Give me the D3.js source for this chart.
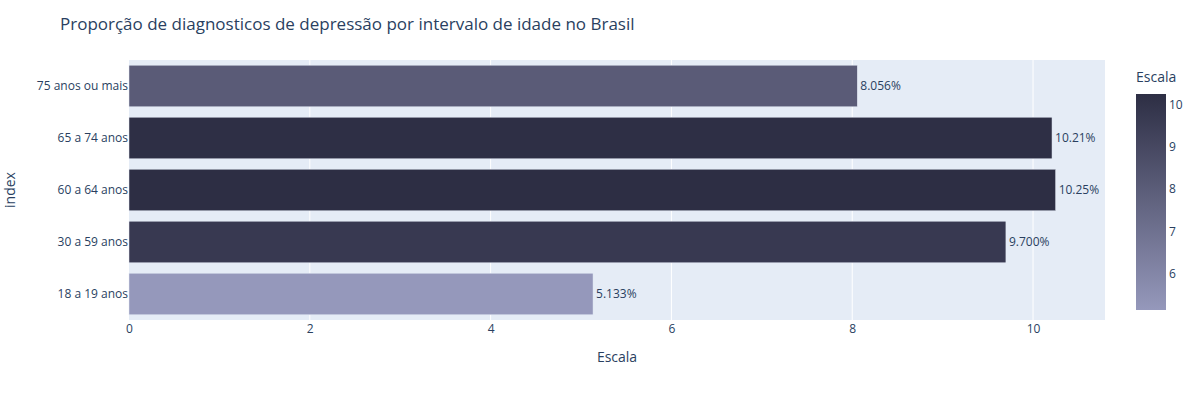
<!DOCTYPE html>
<html>
<head>
<meta charset="utf-8">
<script src="https://cdn.jsdelivr.net/npm/d3@7"></script>
<style>
body { margin: 0; background: #fff; }
svg text { font-family: "Open Sans", sans-serif; fill: #2a3f5f; }
</style>
</head>
<body>
<div class="chart"></div>
<script>
// data
var categories = ["18 a 19 anos", "30 a 59 anos", "60 a 64 anos", "65 a 74 anos", "75 anos ou mais"];
var values = [5.133, 9.700, 10.25, 10.21, 8.056];
var labels = ["5.133%", "9.700%", "10.25%", "10.21%", "8.056%"];
var xTicks = [0, 2, 4, 6, 8, 10];
var cbTicks = [6, 7, 8, 9, 10];

var width = 1200, height = 400;
var margin = {left: 129, right: 95, top: 60, bottom: 80};
var plotW = width - margin.left - margin.right;
var plotH = height - margin.top - margin.bottom;

var x = d3.scaleLinear().domain([0, 10.796]).range([0, plotW]);
var y = d3.scaleBand().domain(categories.slice().reverse()).range([0, plotH])
    .paddingInner(0.2).paddingOuter(0.1);

var vmin = d3.min(values), vmax = d3.max(values);
var color = d3.scaleLinear().domain([vmin, vmax]).range(["#9598bb", "#2d2e44"]);

var svg = d3.select(".chart").append("svg").attr("width", width).attr("height", height);

svg.append("text").attr("x", 60).attr("y", 30)
    .style("font-size", "17px").text("Proporção de diagnosticos de depressão por intervalo de idade no Brasil");

var g = svg.append("g").attr("transform", "translate(" + margin.left + "," + margin.top + ")");

g.append("rect").attr("width", plotW).attr("height", plotH).attr("fill", "#e5ecf6");

// grid
g.selectAll(".grid").data(xTicks.filter(function(d){ return d > 0; })).enter().append("line")
    .attr("x1", function(d){ return x(d); }).attr("x2", function(d){ return x(d); })
    .attr("y1", 0).attr("y2", plotH).attr("stroke", "#fff").attr("stroke-width", 1);

// bars
g.selectAll(".bar").data(values).enter().append("rect")
    .attr("x", 0)
    .attr("y", function(d, i){ return y(categories[i]); })
    .attr("width", function(d){ return x(d); })
    .attr("height", y.bandwidth())
    .attr("fill", function(d){ return color(d); })
    .attr("stroke", "#e5ecf6").attr("stroke-width", 0.5);

g.selectAll(".lbl").data(values).enter().append("text")
    .attr("x", function(d){ return x(d) + 3; })
    .attr("y", function(d, i){ return y(categories[i]) + y.bandwidth() / 2; })
    .attr("dy", "0.35em").style("font-size", "12px")
    .text(function(d, i){ return labels[i]; });

// x axis
var xAxis = g.append("g").attr("transform", "translate(0," + plotH + ")")
    .call(d3.axisBottom(x).tickValues(xTicks).tickSize(0).tickPadding(4));
xAxis.select(".domain").remove();
xAxis.selectAll("text").style("font-size", "12px").attr("fill", "#2a3f5f");

// y axis
var yAxis = g.append("g").call(d3.axisLeft(y).tickSize(0).tickPadding(1));
yAxis.select(".domain").remove();
yAxis.selectAll("text").style("font-size", "12px").attr("fill", "#2a3f5f");

svg.append("text").attr("x", margin.left + plotW / 2).attr("y", 362)
    .attr("text-anchor", "middle").style("font-size", "14px").text("Escala");
svg.append("text").attr("transform", "translate(15," + (margin.top + plotH / 2) + ") rotate(-90)")
    .attr("text-anchor", "middle").style("font-size", "14px").text("index");

// colorbar
var cbX = 1136, cbW = 30, cbTop = 94, cbBot = 310;
var cbScale = d3.scaleLinear().domain([vmin, vmax]).range([cbBot, cbTop]);
var grad = svg.append("defs").append("linearGradient").attr("id", "cbgrad")
    .attr("x1", 0).attr("y1", 1).attr("x2", 0).attr("y2", 0);
grad.append("stop").attr("offset", "0%").attr("stop-color", color(vmin));
grad.append("stop").attr("offset", "100%").attr("stop-color", color(vmax));
svg.append("rect").attr("x", cbX).attr("y", cbTop).attr("width", cbW).attr("height", cbBot - cbTop)
    .attr("fill", "url(#cbgrad)");
var cbAxis = svg.append("g").attr("transform", "translate(" + (cbX + cbW) + ",0)")
    .call(d3.axisRight(cbScale).tickValues(cbTicks).tickSize(0).tickPadding(3).tickFormat(d3.format("d")));
cbAxis.select(".domain").remove();
cbAxis.selectAll("text").style("font-size", "12px").attr("fill", "#2a3f5f");
svg.append("text").attr("x", cbX).attr("y", 82).style("font-size", "14px").text("Escala");
</script>
</body>
</html>
